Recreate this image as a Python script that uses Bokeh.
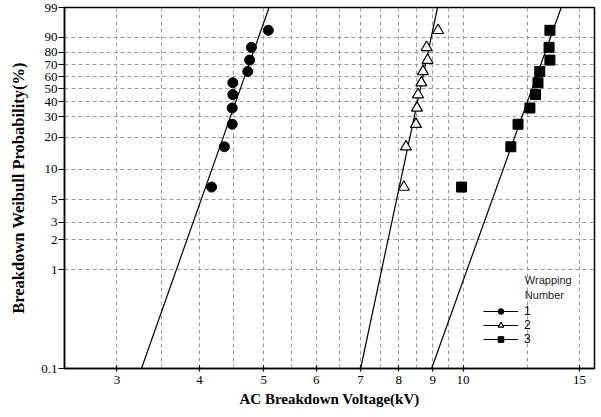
import numpy as np
from bokeh.plotting import figure
from bokeh.models import (FixedTicker, CustomJSTickFormatter, Range1d, Legend,
                          LegendItem, Label)
from bokeh.embed import file_html
from bokeh.resources import INLINE

# Median-rank probabilities (%) for 10 samples
prob = [6.7, 16.3, 26.0, 35.6, 45.2, 54.8, 64.4, 74.0, 83.7, 93.3]
# AC breakdown voltage (kV) per wrapping number
wrap1 = [4.17, 4.36, 4.48, 4.48, 4.49, 4.49, 4.73, 4.76, 4.79, 5.08]
wrap2 = [8.14, 8.20, 8.49, 8.52, 8.55, 8.65, 8.70, 8.84, 8.81, 9.17]
wrap3 = [9.95, 11.81, 12.11, 12.62, 12.87, 12.98, 13.06, 13.53, 13.49, 13.53]
# Weibull fit parameters (shape beta, scale alpha in kV)
fit_beta = [19.0, 31.5, 18.7]
fit_alpha = [4.70, 8.72, 12.97]
series_labels = ["1", "2", "3"]

x_ticks = [3, 4, 5, 6, 7, 8, 9, 10, 15]
x_grid = [3, 3.5, 4, 4.5, 5, 5.5, 6, 6.5, 7, 7.5, 8, 8.5, 9, 9.5, 10, 12.5, 15]
y_ticks = [0.1, 1, 2, 3, 5, 10, 20, 30, 40, 50, 60, 70, 80, 90, 99]
p_min, p_max = 0.1, 99
x_min, x_max = 2.5, 15.8


def wb(pc):
    return np.log(-np.log(1 - np.asarray(pc, dtype=float) / 100.0))


p = figure(width=600, height=416, x_axis_type="log",
           x_range=Range1d(x_min, x_max),
           y_range=Range1d(float(wb(p_min)), float(wb(p_max))),
           output_backend="svg", toolbar_location=None,
           min_border_left=64, min_border_top=7, min_border_right=6,
           min_border_bottom=48, background_fill_color="white",
           border_fill_color="white")

p.outline_line_color = "black"
p.outline_line_width = 1.5

# Axes
p.xaxis.ticker = FixedTicker(ticks=x_ticks, minor_ticks=[])
p.xaxis.formatter = CustomJSTickFormatter(code="return tick.toFixed(0);")
p.yaxis.ticker = FixedTicker(ticks=list(wb(y_ticks)), minor_ticks=[])
p.yaxis.formatter = CustomJSTickFormatter(code="""
const v = 100*(1-Math.exp(-Math.exp(tick)));
return v < 0.5 ? v.toFixed(1) : Math.round(v).toString();
""")
for ax in (p.xaxis[0], p.yaxis[0]):
    ax.axis_line_color = "black"
    ax.axis_line_width = 1.5
    ax.major_tick_line_color = "black"
    ax.major_tick_line_width = 1.2
    ax.minor_tick_line_color = None
    ax.major_label_text_font = "Liberation Serif"
    ax.major_label_text_font_size = "13px"
    ax.major_label_text_color = "black"
    ax.axis_label_text_font = "Liberation Serif"
    ax.axis_label_text_font_style = "bold"
    ax.axis_label_text_color = "black"

p.xaxis.major_tick_in = 3
p.xaxis.major_tick_out = 3
p.xaxis.major_label_standoff = 4
p.xaxis.axis_label = "AC Breakdown Voltage(kV)"
p.xaxis.axis_label_text_font_size = "15px"
p.xaxis.axis_label_standoff = 4

p.yaxis.major_tick_in = 0
p.yaxis.major_tick_out = 6
p.yaxis.major_label_standoff = 1
p.yaxis.axis_label = "Breakdown Weibull Probability(%)"
p.yaxis.axis_label_text_font_size = "16.5px"
p.yaxis.axis_label_standoff = 10

# Grids
p.xgrid.ticker = FixedTicker(ticks=x_grid, minor_ticks=[])
p.ygrid.ticker = FixedTicker(ticks=list(wb(y_ticks)), minor_ticks=[])
for g in (p.xgrid[0], p.ygrid[0]):
    g.grid_line_color = "#9a9a9a"
    g.grid_line_dash = "4 3"
    g.grid_line_width = 1

# Fit lines and data
yv = wb(prob)
items = []
datasets = [wrap1, wrap2, wrap3]
for i, data in enumerate(datasets):
    b, a = fit_beta[i], fit_alpha[i]
    pp = np.array([p_min, p_max]) / 100.0
    xv = a * (-np.log(1 - pp)) ** (1.0 / b)
    ln = p.line(xv, wb([p_min, p_max]), line_color="black", line_width=1.2)
    if i == 0:
        sc = p.scatter(data, yv, marker="circle", size=10,
                       fill_color="black", line_color="black")
    elif i == 1:
        sc = p.scatter(data, yv, marker="triangle", size=11,
                       fill_color="white", line_color="black", line_width=1.2)
    else:
        sc = p.scatter(data, yv, marker="square", size=10,
                       fill_color="black", line_color="black")
    items.append(LegendItem(label=series_labels[i], renderers=[ln, sc]))

leg = Legend(items=items, location=(419, 22), background_fill_alpha=0,
             border_line_alpha=0, padding=0, margin=0, spacing=0,
             glyph_width=35, glyph_height=14, label_height=14,
             label_standoff=6, label_text_font="Liberation Sans",
             label_text_font_size="12px", label_text_color="black")
p.add_layout(leg)

for txt, yy in (("Wrapping", -4.85), ("Number", -5.20)):
    p.add_layout(Label(x=12.4, y=yy, text=txt, text_font="Liberation Sans",
                       text_font_size="11px", text_baseline="middle",
                       text_color="#222222"))

open("out.html", "w").write(file_html(p, INLINE))
